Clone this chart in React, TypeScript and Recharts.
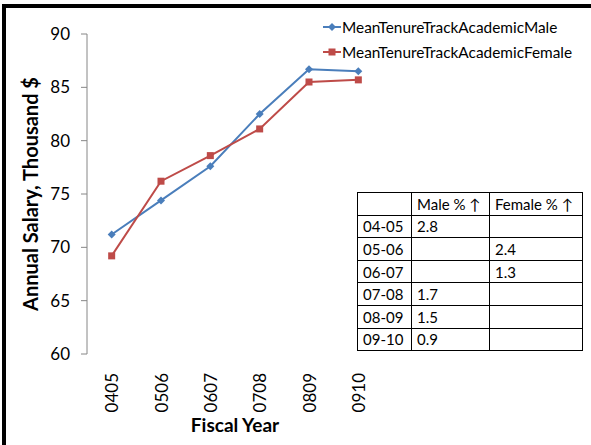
import { LineChart, Line, XAxis, YAxis, Label } from 'recharts';

const years = ['0405', '0506', '0607', '0708', '0809', '0910'];
const maleSalary = [71.2, 74.4, 77.6, 82.5, 86.7, 86.5];
const femaleSalary = [69.2, 76.2, 78.6, 81.1, 85.5, 85.7];
const yTicks = [60, 65, 70, 75, 80, 85, 90];
const edgeTicks = [0, 1, 2, 3, 4, 5, 6];

const tableYears = ['04-05', '05-06', '06-07', '07-08', '08-09', '09-10'];
const malePct = ['2.8', '', '', '1.7', '1.5', '0.9'];
const femalePct = ['', '2.4', '1.3', '', '', ''];

const MALE = '#4A7EBB';
const FEMALE = '#BE4B48';
const AXIS = '#868686';
const FONT = 'Lato, "Open Sans", sans-serif';

const data = years.map((year, i) => ({
  year,
  male: maleSalary[i],
  female: femaleSalary[i],
}));

const series = [
  { key: 'male', name: 'MeanTenureTrackAcademicMale', color: MALE, marker: 'diamond' },
  { key: 'female', name: 'MeanTenureTrackAcademicFemale', color: FEMALE, marker: 'square' },
];

function DiamondDot(props: any) {
  const { cx, cy } = props;
  if (cx == null || cy == null) return null;
  return <path d={`M${cx},${cy - 4}L${cx + 4},${cy}L${cx},${cy + 4}L${cx - 4},${cy}Z`} fill={MALE} />;
}

function SquareDot(props: any) {
  const { cx, cy } = props;
  if (cx == null || cy == null) return null;
  return <rect x={cx - 3.5} y={cy - 3.5} width={7} height={7} fill={FEMALE} />;
}

function YearTick(props: any) {
  const { x, y, payload } = props;
  return (
    <g transform={`translate(${x},${y + 19}) rotate(-90)`}>
      <text x={0} y={0} textAnchor="end" dominantBaseline="central" fontSize={17} fontFamily={FONT} fill="#000">
        {payload.value}
      </text>
    </g>
  );
}

function LegendIcon({ color, marker }: { color: string; marker: string }) {
  return (
    <svg width={18} height={10} style={{ display: 'block' }}>
      <line x1={0} y1={5} x2={18} y2={5} stroke={color} strokeWidth={2} />
      {marker === 'diamond' ? (
        <path d="M9,1L13,5L9,9L5,5Z" fill={color} />
      ) : (
        <rect x={5.5} y={1.5} width={7} height={7} fill={color} />
      )}
    </svg>
  );
}

const cell: React.CSSProperties = {
  border: '1px solid #000',
  padding: '0 0 0 5px',
  height: 21.6,
  fontSize: 15,
  fontFamily: FONT,
  color: '#000',
  textAlign: 'left',
  whiteSpace: 'nowrap',
};

export default function App() {
  return (
    <div style={{ position: 'absolute', left: 0, top: 0, width: 591, height: 445, background: '#fff', overflow: 'hidden' }}>
      <LineChart width={591} height={445} data={data} margin={{ top: 34, right: 208, bottom: 0, left: 0 }}>
        <XAxis
          xAxisId="edge"
          type="number"
          domain={[0, 6]}
          ticks={edgeTicks}
          allowDataOverflow
          height={0}
          tick={false}
          tickSize={6}
          tickLine={{ stroke: AXIS }}
          axisLine={{ stroke: AXIS }}
        />
        <XAxis
          xAxisId="cat"
          dataKey="year"
          scale="band"
          height={91}
          tickSize={0}
          tickMargin={0}
          tickLine={false}
          axisLine={false}
          interval={0}
          tick={<YearTick />}
        >
          <Label
            content={(p: any) => {
              const vb = p.viewBox;
              return (
                <text
                  x={vb.x + vb.width / 2}
                  y={vb.y + 70}
                  textAnchor="middle"
                  dominantBaseline="central"
                  fontSize={19}
                  fontWeight="bold"
                  fontFamily={FONT}
                  fill="#000"
                >
                  Fiscal Year
                </text>
              );
            }}
          />
        </XAxis>
        <YAxis
          width={87}
          domain={[60, 90]}
          ticks={yTicks}
          interval={0}
          tickSize={6}
          tickMargin={11}
          tickLine={{ stroke: AXIS }}
          axisLine={{ stroke: AXIS }}
          tick={{ fill: '#000', fontSize: 17, fontFamily: FONT }}
        >
          <Label
            content={(p: any) => {
              const vb = p.viewBox;
              const cx = vb.x + 30;
              const cy = vb.y + vb.height / 2;
              return (
                <text
                  x={cx}
                  y={cy}
                  transform={`rotate(-90, ${cx}, ${cy})`}
                  textAnchor="middle"
                  dominantBaseline="central"
                  fontSize={20}
                  fontWeight="bold"
                  fontFamily={FONT}
                  fill="#000"
                >
                  Annual Salary, Thousand $
                </text>
              );
            }}
          />
        </YAxis>
        <Line
          xAxisId="cat"
          dataKey="male"
          name={series[0].name}
          stroke={MALE}
          strokeWidth={2}
          dot={<DiamondDot />}
          activeDot={false}
          isAnimationActive={false}
        />
        <Line
          xAxisId="cat"
          dataKey="female"
          name={series[1].name}
          stroke={FEMALE}
          strokeWidth={2}
          dot={<SquareDot />}
          activeDot={false}
          isAnimationActive={false}
        />
      </LineChart>

      {/* legend */}
      <div style={{ position: 'absolute', left: 323, top: 14 }}>
        {series.map((s) => (
          <div key={s.key} style={{ display: 'flex', alignItems: 'center', height: 25 }}>
            <LegendIcon color={s.color} marker={s.marker} />
            <span style={{ fontFamily: FONT, fontSize: 15.4, color: '#000', marginLeft: 1 }}>{s.name}</span>
          </div>
        ))}
      </div>

      {/* growth table */}
      <table
        style={{
          position: 'absolute',
          left: 357,
          top: 192,
          width: 225,
          borderCollapse: 'collapse',
          tableLayout: 'fixed',
          border: '1.5px solid #000',
          background: '#fff',
        }}
      >
        <colgroup>
          <col style={{ width: 54 }} />
          <col style={{ width: 78 }} />
          <col style={{ width: 93 }} />
        </colgroup>
        <tbody>
          <tr>
            <td style={cell}></td>
            <td style={cell}>Male % ↑</td>
            <td style={cell}>Female % ↑</td>
          </tr>
          {tableYears.map((y, i) => (
            <tr key={y}>
              <td style={cell}>{y}</td>
              <td style={cell}>{malePct[i]}</td>
              <td style={cell}>{femalePct[i]}</td>
            </tr>
          ))}
        </tbody>
      </table>

      {/* frame edges */}
      <div style={{ position: 'absolute', left: 2, top: 4, width: 4, height: 441, background: '#000' }} />
      <div style={{ position: 'absolute', left: 2, top: 4, width: 589, height: 3.5, background: '#000' }} />
    </div>
  );
}
